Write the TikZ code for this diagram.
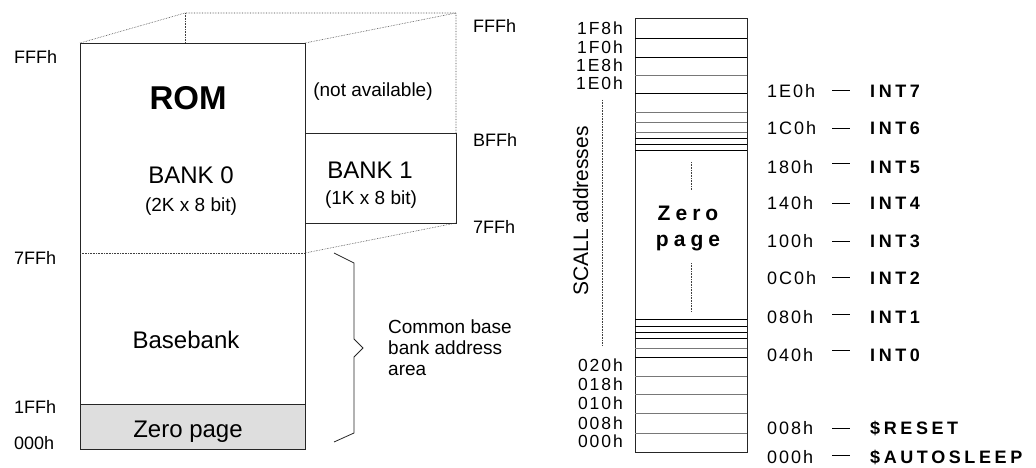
\documentclass[tikz,border=0pt]{standalone}
\usepackage{fontspec}
\setmainfont{Liberation Sans}
\newfontfamily\addrfont[LetterSpace=11]{Liberation Sans}
\newfontfamily\intfont[LetterSpace=20]{Liberation Sans}
\newfontfamily\zpfont[LetterSpace=24]{Liberation Sans}
\definecolor{zpgray}{RGB}{222,222,222}
\definecolor{lgray}{RGB}{120,120,120}
\begin{document}
\begin{tikzpicture}[x=1pt,y=-1pt,
  box/.style={draw=black!85, line width=0.9pt},
  dots/.style={draw=black!75, densely dotted, line width=0.6pt},
  row/.style={draw=black, line width=0.8pt},
  rowg/.style={draw=lgray, line width=0.8pt},
  txt/.style={inner sep=0pt, font=\fontsize{18}{20}\selectfont},
  mid/.style={inner sep=0pt, font=\fontsize{24}{26}\selectfont},
  small/.style={inner sep=0pt, font=\fontsize{19}{21}\selectfont},
  addrl/.style={inner sep=0pt, anchor=east, font=\addrfont\fontsize{17.5}{19}\selectfont},
  addrr/.style={inner sep=0pt, anchor=west, font=\addrfont\fontsize{18}{20}\selectfont},
  intl/.style={inner sep=0pt, anchor=west, font=\intfont\bfseries\fontsize{18}{20}\selectfont},
  dashln/.style={draw=black, line width=0.8pt}
]
\useasboundingbox (0,0) rectangle (1036,468);

% ---------------- left: ROM memory map ----------------
\coordinate (tl) at (80,43);
\coordinate (tr) at (305,43);
\coordinate (bl) at (80,449);
\coordinate (br) at (305,449);
\coordinate (btl) at (185,13);
\coordinate (btr) at (456,13);
\coordinate (b1tl) at (305,133);
\coordinate (b1tr) at (456,133);
\coordinate (b1br) at (456,223);
\coordinate (m7l) at (80,253);
\coordinate (m7r) at (305,253);
\coordinate (z1l) at (80,404);
\coordinate (z1r) at (305,404);

\fill[zpgray] (z1l) rectangle (br);
\draw[box] (tl) rectangle (br);
\draw[box] (z1l) -- (z1r);
\draw[dots] (m7l) -- (m7r);
\draw[box] (b1tl) rectangle (b1br);
\draw[dots] (tl) -- (btl) -- (btr) -- (b1tr);
\draw[dots] (btl) -- (185,43);
\draw[dots] (tr) -- (btr);
\draw[dots] (m7r) -- (b1br);

\node[inner sep=0pt, font=\bfseries\fontsize{33}{36}\selectfont] (rom) at (188,98) {ROM};
\node[mid] (bank0) at (191,175) {BANK 0};
\node[small] (bank0s) at (191,207) {(2K x 8 bit)};
\node[small] (na) at (373,92) {(not available)};
\node[mid] (bank1) at (370,170) {BANK 1};
\node[small] (bank1s) at (371,200) {(1K x 8 bit)};
\node[mid] (basebank) at (186,340) {Basebank};
\node[mid] (zpage) at (188,432) {Zero page};

\node[txt, anchor=west] (lfff) at (14,57) {FFFh};
\node[txt, anchor=west] (l7ff) at (14,258) {7FFh};
\node[txt, anchor=west] (l1ff) at (14,407) {1FFh};
\node[txt, anchor=west] (l000) at (14,443) {000h};
\node[txt, anchor=west] (rfff) at (473,26) {FFFh};
\node[txt, anchor=west] (rbff) at (473,140) {BFFh};
\node[txt, anchor=west] (r7ff) at (473,227) {7FFh};

\draw[line width=0.8pt, black!85] (334,253) -- (354,263) -- (354,339) -- (363,348)
  -- (354,357) -- (354,433) -- (334,442);
\node[small, anchor=west, align=left] (common) at (388,348)
  {Common base\\bank address\\area};

% ---------------- right: zero page map ----------------
\coordinate (ctl) at (635,18);
\coordinate (cbr) at (747,452);
\draw[box] (ctl) rectangle (cbr);
\foreach \y/\s in {38/row, 57/row, 75/rowg, 93/row, 112/rowg, 122/rowg, 132/rowg,
                   138/row, 144/row, 150/row,
                   319/row, 326/row, 332/row, 338/row, 348/rowg, 357/row,
                   376/rowg, 394/rowg, 413/rowg, 433/rowg}
  \draw[\s] (635,\y) -- (747,\y);
\draw[dots] (691,162) -- (691,190);
\draw[dots] (691,263) -- (691,312);
\node[inner sep=0pt, font=\zpfont\bfseries\fontsize{21}{23}\selectfont] (zero) at (688,213) {Zero};
\node[inner sep=0pt, font=\zpfont\bfseries\fontsize{21}{23}\selectfont] (page) at (688,243) {page};

\node[inner sep=0pt, rotate=90, anchor=base, font=\fontsize{21}{23}\selectfont] (scall) at (588,211) {SCALL addresses};
\draw[dots] (602,100) -- (602,345);

\node[addrl] (c1f8) at (623,28) {1F8h};
\node[addrl] (c1f0) at (623,47) {1F0h};
\node[addrl] (c1e8) at (623,65) {1E8h};
\node[addrl] (c1e0) at (623,83) {1E0h};
\node[addrl] (c020) at (623,365) {020h};
\node[addrl] (c018) at (623,384) {018h};
\node[addrl] (c010) at (623,403) {010h};
\node[addrl] (c008) at (623,423) {008h};
\node[addrl] (c000) at (623,441) {000h};

\foreach \n/\yt/\yd/\a/\t in {7/91/90/1E0h/INT7, 6/128/128/1C0h/INT6, 5/167/163/180h/INT5,
    4/203/203/140h/INT4, 3/241/241/100h/INT3, 2/278/277/0C0h/INT2,
    1/317/314/080h/INT1, 0/355/350/040h/INT0, r/428/428/008h/\$RESET,
    s/457/455/000h/\$AUTOSLEEP}{
  \node[addrr] (a\n) at (767,\yt) {\a};
  \node[intl] (i\n) at (870,\yt) {\t};
  \coordinate (da\n) at (832,\yd);
  \coordinate (db\n) at (850,\yd);
  \draw[dashln] (da\n) -- (db\n);
}
\end{tikzpicture}
\end{document}
